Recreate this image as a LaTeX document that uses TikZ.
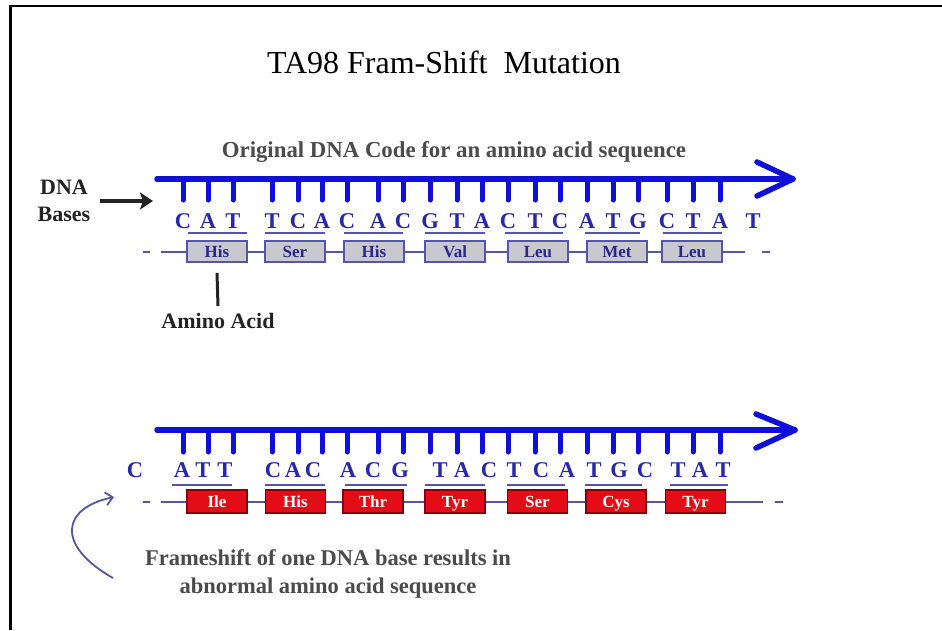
\documentclass[tikz,border=0pt]{standalone}
\usepackage{fontspec}
\setmainfont{Liberation Serif}
\usetikzlibrary{arrows.meta,calc}
\definecolor{dnablue}{RGB}{15,15,215}
\definecolor{letblue}{RGB}{40,40,170}
\definecolor{boxline}{RGB}{85,85,170}
\definecolor{boxgrey}{RGB}{200,200,206}
\definecolor{boxtext}{RGB}{40,40,140}
\definecolor{redfill}{RGB}{228,12,22}
\definecolor{redline}{RGB}{130,0,10}
\definecolor{graytext}{RGB}{75,75,75}
\definecolor{darktext}{RGB}{35,35,35}
\definecolor{curvecol}{RGB}{85,85,165}
\begin{document}
\begin{tikzpicture}[x=1pt,y=-1pt,
  shaft/.style={dnablue,line width=5.5pt,line cap=round,line join=round},
  tickline/.style={dnablue,line width=5pt,line cap=round},
  baseletter/.style={inner sep=0pt,text=letblue,text height=15pt,text depth=0pt,font=\bfseries\fontsize{22.5}{22.5}\selectfont},
  ovline/.style={boxline,line width=2pt},
  chain/.style={boxline,line width=2pt},
  gbox/.style={draw=boxline,fill=boxgrey,line width=1.6pt,minimum width=60pt,minimum height=21pt,inner sep=0pt,text height=11.5pt,text depth=0.5pt,text=boxtext,font=\bfseries\fontsize{17}{17}\selectfont},
  rbox/.style={draw=redline,fill=redfill,line width=1.2pt,minimum width=60pt,minimum height=23pt,inner sep=0pt,text height=11.5pt,text depth=0.5pt,text=white,font=\bfseries\fontsize{17}{17}\selectfont},
  label/.style={inner sep=0pt,font=\bfseries\fontsize{22}{27}\selectfont}
]
\useasboundingbox (0,0) rectangle (942,630);
\fill[white] (0,0) rectangle (942,630);
\draw[line width=2.5pt] (10.5,630) -- (10.5,6) -- (942,6);

% title
\node[inner sep=0pt,anchor=base,font=\fontsize{32}{36}\selectfont] (title) at (444,73) {TA98 Fram-Shift\ \ Mutation};

% ---------------- top strand ----------------
\node[label,text=graytext,font=\bfseries\fontsize{22.8}{24}\selectfont] (orig) at (454,152) {Original DNA Code for an amino acid sequence};
\node[label,text=darktext,align=center] (dnab) at (64,201) {DNA\\Bases};
\coordinate (ptr) at (153,201);
\draw[darktext,line width=3.5pt,-{Stealth[length=13pt,width=17pt,inset=3pt]}] ([xshift=10pt]dnab.east) -- (ptr);

\coordinate (ts) at (157,179);
\coordinate (te) at (793,179);
\draw[shaft] (ts) -- (te);
\draw[shaft] (757,162) -- (te) -- (757,196);
\foreach \x in {183,208,233,272,298,322,347,378,403,430,457,482,508,535,560,587,613,638,667,693,720}
  \draw[tickline] (\x,179) -- (\x,200);
\foreach \x/\l [count=\i] in {183/C,208/A,233/T,272/T,298/C,322/A,347/C,378/A,403/C,430/G,457/T,482/A,508/C,535/T,560/C,587/A,613/T,638/G,667/C,693/T,720/A,753/T}
  \node[baseletter] (t\i) at (\x,221) {\l};
\foreach \a/\b in {188/247,265/325,344/403,425/485,505/563,585/640,663/722}
  \draw[ovline] (\a,233) -- (\b,233);

\foreach \x/\n [count=\i] in {217/His,295/Ser,374/His,455/Val,538/Leu,617/Met,692/Leu}
  \node[gbox] (a\i) at (\x,251.5) {\n};
\coordinate (al0) at (143,251.5);
\coordinate (al1) at (150,251.5);
\coordinate (al2) at (161,251.5);
\coordinate (ar1) at (745,251.5);
\coordinate (ar2) at (762,251.5);
\coordinate (ar3) at (770,251.5);
\draw[chain] (al0) -- (al1);
\draw[chain] (al2) -- (a1.west);
\foreach \i [evaluate=\i as \j using int(\i+1)] in {1,...,6}
  \draw[chain] (a\i.east) -- (a\j.west);
\draw[chain] (a7.east) -- (ar1);
\draw[chain] (ar2) -- (ar3);

\node[label,text=darktext] (amino) at (218,321) {Amino Acid};
\draw[darktext,line width=3pt] ([yshift=-10pt]a1.south) -- ([yshift=7pt]amino.north);

% ---------------- bottom strand ----------------
\coordinate (bs) at (157,430);
\coordinate (be) at (795,430);
\draw[shaft] (bs) -- (be);
\draw[shaft] (756,414) -- (be) -- (756,448);
\foreach \x in {183,208,233,272,298,322,347,378,403,430,457,482,508,535,560,587,613,638,667,693,720}
  \draw[tickline] (\x,430) -- (\x,452);
\foreach \x/\l [count=\i] in {135/C,182/A,203/T,225/T,273/C,293/A,313/C,348/A,373/C,400/G,440/T,462/A,489/C,514/T,541/C,567/A,594/T,619/G,645/C,678/T,700/A,723/T}
  \node[baseletter] (b\i) at (\x,470) {\l};
\foreach \a/\b in {172/232,265/325,345/407,425/485,507/565,585/642,670/728}
  \draw[ovline] (\a,485) -- (\b,485);

\foreach \x/\n [count=\i] in {217/Ile,295.5/His,373/Thr,455/Tyr,537.5/Ser,616/Cys,695.5/Tyr}
  \node[rbox] (r\i) at (\x,501.5) {\n};
\coordinate (bl0) at (143,501.5);
\coordinate (bl1) at (150,501.5);
\coordinate (bl2) at (161,501.5);
\coordinate (br1) at (763,501.5);
\coordinate (br2) at (775,501.5);
\coordinate (br3) at (783,501.5);
\draw[chain] (bl0) -- (bl1);
\draw[chain] (bl2) -- (r1.west);
\foreach \i [evaluate=\i as \j using int(\i+1)] in {1,...,6}
  \draw[chain] (r\i.east) -- (r\j.west);
\draw[chain] (r7.east) -- (br1);
\draw[chain] (br2) -- (br3);

% curved pointer
\coordinate (cs) at (113,578);
\coordinate (ce) at (114,497);
\draw[curvecol,line width=1.8pt,-{Straight Barb[length=7pt,width=13pt]}] (cs) .. controls (55,545) and (62,508) .. (ce);

\node[label,text=graytext,align=center,font=\bfseries\fontsize{22.5}{28}\selectfont] (fs) at (328,574) {Frameshift of one DNA base results in\\abnormal amino acid sequence};
\end{tikzpicture}
\end{document}
